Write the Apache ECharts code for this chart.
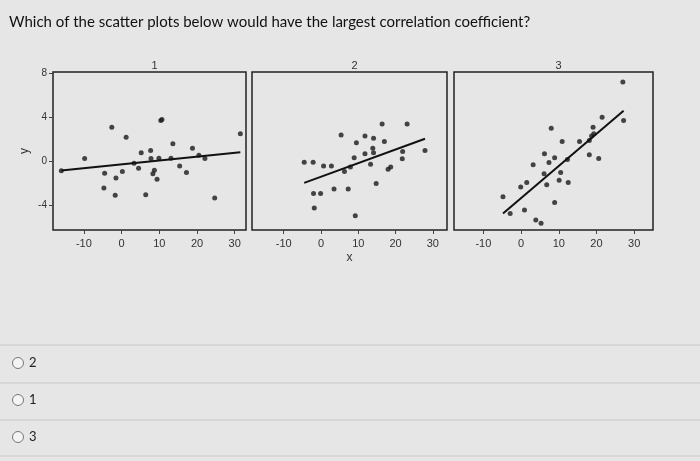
<!DOCTYPE html>
<html><head><meta charset="utf-8">
<script src="https://cdn.jsdelivr.net/npm/echarts@6/dist/echarts.min.js"></script>
<style>html,body{margin:0;padding:0;background:#e6e6e6}#c{width:700px;height:461px}</style>
</head><body><div id="c"></div>
<script>
const questionText = "Which of the scatter plots below would have the largest correlation coefficient?";
const panelTitles = ["1","2","3"];
const answerOptions = ["2","1","3"];
const yTicks = [-4,0,4,8];
const xTicks = [-10,0,10,20,30];
const plot1 = [[-16,-0.83],[-9.8,0.27],[-2.6,3.1],[1.2,2.2],[-4.5,-1.07],[-4.7,-2.4],[-1.5,-1.5],[-1.7,-3.05],[0.2,-0.9],[3.3,-0.15],[4.5,-0.6],[5.2,0.8],[6.4,-3.0],[7.7,1.0],[7.8,0.27],[8.7,-0.8],[8.3,-1.1],[9.4,-1.6],[9.9,0.3],[10.4,3.7],[10.7,3.8],[13.6,1.6],[13.1,0.3],[15.4,-0.4],[17.2,-1.0],[18.8,1.2],[20.5,0.56],[22.1,0.27],[24.7,-3.3],[31.5,2.5]];
const plot2 = [[-4.5,-0.06],[-2.1,-0.06],[0.7,-0.4],[2.8,-0.4],[-2.0,-2.9],[-0.1,-2.9],[-1.8,-4.2],[3.5,-2.5],[5.4,2.4],[6.3,-0.9],[7.9,-0.5],[7.3,-2.5],[8.9,0.35],[9.2,-4.9],[9.5,1.7],[11.8,2.3],[11.8,0.7],[13.3,-0.24],[14.1,2.1],[13.9,1.2],[14.1,0.8],[14.8,-2.0],[16.4,3.4],[17.0,1.8],[18.0,-0.7],[18.7,-0.5],[21.9,0.9],[21.8,0.24],[23.1,3.4],[27.9,1.0]];
const plot3 = [[27.0,7.2],[27.2,3.7],[21.5,4.0],[19.1,3.1],[19.3,2.5],[18.7,2.3],[18.1,1.9],[15.5,1.8],[18.1,0.6],[20.6,0.27],[8.0,3.0],[10.9,1.8],[6.2,0.7],[7.4,-0.1],[8.9,0.35],[12.3,0.18],[3.2,-0.3],[6.1,-1.1],[10.5,-1.0],[6.8,-2.1],[10.1,-1.7],[12.5,-1.9],[1.5,-1.9],[-0.1,-2.3],[-4.8,-3.2],[8.9,-3.7],[0.9,-4.4],[-2.9,-4.7],[3.9,-5.3],[5.3,-5.6]];
const plots = [plot1, plot2, plot3];

function fitLine(pts){
  const n=pts.length; let sx=0,sy=0,sxx=0,sxy=0;
  pts.forEach(p=>{sx+=p[0];sy+=p[1];sxx+=p[0]*p[0];sxy+=p[0]*p[1];});
  const b=(n*sxy-sx*sy)/(n*sxx-sx*sx), a=(sy-b*sx)/n;
  const xs=pts.map(p=>p[0]); const lo=Math.min(...xs), hi=Math.max(...xs);
  return [[lo,a+b*lo],[hi,a+b*hi]];
}
const grids=[{left:53,width:193},{left:252,width:195},{left:454,width:199}];
const xr=[[-18.2,33],[-18.5,33.8],[-17.8,35]];
const chart=echarts.init(document.getElementById('c'));
const opt={
  backgroundColor:'#e6e6e6',
  animation:false,
  title:[{text:questionText,left:4,top:10,textStyle:{fontFamily:'Lato',fontSize:15,fontWeight:'normal',color:'#111'}}]
    .concat(panelTitles.map((t,i)=>({text:t,left:grids[i].left+grids[i].width/2,top:55,textAlign:'center',textStyle:{fontFamily:'Arial',fontSize:11,fontWeight:'normal',color:'#333'}}))),
  grid:grids.map(g=>({left:g.left,width:g.width,top:72,height:158,show:true,borderColor:'#222',borderWidth:1.5,backgroundColor:'transparent'})),
  xAxis:grids.map((g,i)=>({type:'value',gridIndex:i,min:xr[i][0],max:xr[i][1],splitLine:{show:false},axisLine:{show:false,onZero:false},
    axisTick:{show:true,customValues:xTicks,length:4,lineStyle:{color:'#444'}},
    axisLabel:{customValues:xTicks,color:'#333',fontSize:11,fontFamily:'Arial',margin:8},
    name:i===1?'x':'',nameLocation:'middle',nameGap:22,nameTextStyle:{color:'#333',fontSize:12}})),
  yAxis:grids.map((g,i)=>({type:'value',gridIndex:i,min:-6.2,max:8.1,splitLine:{show:false},axisLine:{show:false,onZero:false},
    axisTick:{show:i===0,customValues:yTicks,length:4,lineStyle:{color:'#444'}},
    axisLabel:{show:i===0,customValues:yTicks,color:'#333',fontSize:10,fontFamily:'Arial',margin:6},
    name:i===0?'y':'',nameLocation:'middle',nameGap:22,nameTextStyle:{color:'#333',fontSize:12}})),
  series:[],
  graphic:[]
};
plots.forEach((p,i)=>{
  opt.series.push({type:'scatter',xAxisIndex:i,yAxisIndex:i,data:p,symbolSize:5,itemStyle:{color:'#1a1a1a'}});
  opt.series.push({type:'line',xAxisIndex:i,yAxisIndex:i,data:fitLine(p),symbol:'none',lineStyle:{color:'#111',width:2}});
});
[345,383,420,456].forEach(y=>opt.graphic.push({type:'line',shape:{x1:0,y1:y,x2:700,y2:y},style:{stroke:'#c8c8c8',lineWidth:1}}));
answerOptions.forEach((t,k)=>{
  const y=363+k*37;
  opt.graphic.push({type:'circle',shape:{cx:18,cy:y,r:5.5},style:{fill:'#f4f4f4',stroke:'#777',lineWidth:1}});
  opt.graphic.push({type:'text',x:29,y:y,style:{text:t,fill:'#222',font:'13px Lato',verticalAlign:'middle'}});
});
chart.setOption(opt);
</script></body></html>
